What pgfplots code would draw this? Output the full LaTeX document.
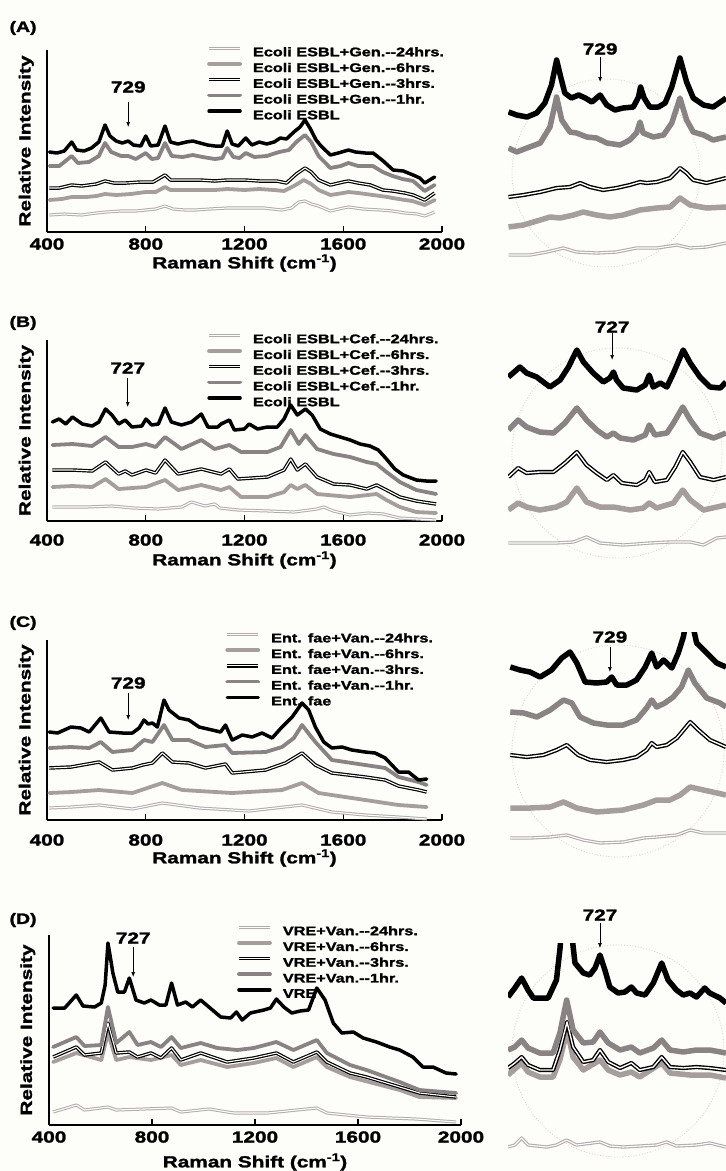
\documentclass[border=0pt]{standalone}
\usepackage{fontspec}
\setmainfont{Liberation Sans}[FakeStretch=1.3, BoldFeatures={FakeBold=1.6}]
\usepackage{pgfplots}
\pgfplotsset{compat=1.18}
\usetikzlibrary{arrows.meta}

\definecolor{bgc}{HTML}{FDFDF9}
\definecolor{grA}{HTML}{8A8383}
\definecolor{grB}{HTML}{A59E9D}
\definecolor{grC}{HTML}{B2ABAA}
\definecolor{ring}{HTML}{D6CACA}
\newcommand\fs[1]{\fontsize{#1}{#1}\selectfont\bfseries}

\pgfplotsset{
  ctl/.style={black, line width=3.5pt, line join=round, line cap=round},
  h1/.style={grA, line width=3.8pt, line join=round, line cap=round},
  h3/.style={draw=black, double=white, line width=1.2pt, double distance=1.1pt, line join=round},
  h6/.style={grB, line width=3.8pt, line join=round, line cap=round},
  h24/.style={draw=grC, double=white, line width=1pt, double distance=1.1pt, line join=round},
  ictl/.style={black, line width=5.5pt, line join=round},
  ih1/.style={grA, line width=5.5pt, line join=round},
  ih3/.style={draw=black, double=white, line width=1.4pt, double distance=1.4pt, line join=round},
  ih6/.style={grB, line width=5.5pt, line join=round},
  ih24/.style={draw=grC, double=white, line width=1.1pt, double distance=1.1pt, line join=round},
  main/.style={
    scale only axis, anchor=south west, width=395pt,
    xmin=400, xmax=2000, ymin=0,
    axis x line=bottom, axis y line=left, axis line style={-, line width=1.8pt},
    xtick={400,800,1200,1600,2000}, xticklabels={400,800,1200,1600,2000},
    ytick=\empty, tick align=inside, major tick length=6pt,
    tick style={line width=1.4pt, black},
    xticklabel style={font=\fs{16}, anchor=center},
    xlabel={Raman Shift (cm\textsuperscript{-1})}, ylabel={Relative Intensity},
    label style={font=\fs{16}},
    xlabel style={at={(axis description cs:0.5,0)}, anchor=center},
    ylabel style={at={(axis description cs:-0.033,0.5)}, anchor=south, inner sep=0pt},
    clip mode=individual, legend cell align=left,
    legend style={draw=none, fill=none, font=\fs{12.5}, anchor=north west,
      inner sep=0pt, row sep=3.2pt, nodes={inner sep=1pt}},
    legend image code/.code={\draw[##1] (1pt,4.3pt) -- (32pt,4.3pt); \path (42pt,4.3pt);},
  },
  ins/.style={
    scale only axis, anchor=south west, width=218pt, ymin=0,
    axis lines=none, xtick=\empty, ytick=\empty, clip mode=individual,
  },
}

\begin{document}
\begin{tikzpicture}
\path[use as bounding box, fill=bgc] (0pt,0pt) rectangle (726pt,-1171pt);

\node[anchor=west, font=\fs{15}] at (6pt,-28pt) {(A)};
\node[anchor=west, font=\fs{15}] at (6pt,-323pt) {(B)};
\node[anchor=west, font=\fs{15}] at (6pt,-623pt) {(C)};
\node[anchor=west, font=\fs{15}] at (6pt,-920pt) {(D)};

\draw[ring, dotted, line width=0.8pt] (606pt,-173pt) circle (94pt);
\draw[ring, dotted, line width=0.8pt] (617pt,-453pt) circle (105pt);
\draw[ring, dotted, line width=0.8pt] (618pt,-751pt) circle (106pt);
\draw[ring, dotted, line width=0.8pt] (618pt,-1051pt) circle (106pt);

% ---------------- (A) ----------------
\begin{axis}[main, at={(47pt,-232pt)}, height=182pt, ymax=182,
  legend style={at={(0.405,1.022)}},
  xticklabel style={yshift=-12pt}, xlabel style={yshift=-31pt}]
\addplot[h24] coordinates {(410,17)(470,18)(540,17)(600,19)(640,20)(700,21)(760,21)(800,22)(840,23)(878,26)(910,23)(960,22)(1000,22)(1060,23)(1130,24)(1200,24)(1280,24)(1350,22)(1390,24)(1420,30)(1445,31)(1470,28)(1500,26)(1548,21)(1600,24)(1621,25)(1680,23)(1750,22)(1800,21)(1850,19)(1900,18)(1930,16)(1970,20)};
\addlegendentry{Ecoli ESBL+Gen.-{}-24hrs.}
\addplot[h6] coordinates {(410,32)(460,33)(500,35)(560,35)(600,36)(635,38)(680,37)(740,38)(800,40)(840,40)(878,45)(900,42)(960,42)(1020,42)(1080,42)(1130,43)(1200,42)(1260,43)(1320,42)(1360,41)(1400,46)(1440,52)(1470,48)(1500,42)(1548,37)(1600,39)(1621,40)(1660,39)(1720,37)(1780,35)(1800,34)(1850,32)(1880,31)(1930,27)(1970,32)};
\addlegendentry{Ecoli ESBL+Gen.-{}-6hrs.}
\addplot[h3] coordinates {(410,44)(450,44)(500,47)(540,46)(600,48)(635,51)(670,49)(720,49)(780,50)(830,50)(878,57)(900,52)(960,52)(1020,52)(1080,51)(1130,52)(1200,52)(1260,51)(1330,51)(1370,49)(1410,58)(1445,64)(1470,60)(1500,52)(1548,47)(1600,50)(1621,51)(1660,49)(1710,47)(1760,42)(1800,41)(1850,39)(1883,37)(1930,32)(1970,39)};
\addlegendentry{Ecoli ESBL+Gen.-{}-3hrs.}
\addplot[h1] coordinates {(410,66)(450,66)(500,76)(525,69)(570,70)(610,76)(635,89)(660,80)(700,76)(729,76)(760,73)(800,79)(825,73)(850,74)(878,89)(905,76)(950,75)(990,77)(1030,75)(1080,73)(1110,74)(1130,84)(1155,75)(1180,74)(1205,79)(1240,75)(1290,76)(1340,80)(1380,82)(1410,90)(1445,97)(1470,90)(1500,76)(1548,64)(1590,66)(1621,69)(1660,66)(1720,66)(1760,60)(1800,56)(1840,53)(1883,51)(1930,41)(1970,47)};
\addlegendentry{Ecoli ESBL+Gen.-{}-1hr.}
\addplot[ctl] coordinates {(410,80)(440,79)(470,81)(500,90)(520,82)(550,81)(580,84)(610,90)(635,107)(655,96)(680,91)(705,89)(729,91)(750,87)(780,86)(800,96)(820,86)(850,87)(878,106)(900,90)(930,88)(965,90)(990,91)(1020,89)(1050,87)(1080,86)(1110,86)(1130,101)(1150,88)(1175,86)(1205,94)(1230,87)(1260,90)(1290,88)(1320,90)(1345,94)(1370,93)(1400,100)(1425,105)(1445,112)(1465,104)(1490,92)(1510,86)(1548,77)(1580,79)(1621,82)(1650,80)(1690,79)(1721,79)(1762,71)(1802,62)(1843,61)(1883,57)(1910,54)(1930,49)(1970,55)};
\addlegendentry{Ecoli ESBL}
\node[font=\fs{16}] at (axis cs:729,145) {729};
\draw[-{Latex[length=5pt,width=4pt]}, line width=0.7pt] (axis cs:729,130) -- (axis cs:729,105);
\end{axis}

\begin{axis}[ins, at={(508pt,-270pt)}, height=255pt, xmin=539, xmax=965, ymax=255]
\addplot[ih24] coordinates {(540,15)(582,15)(615,18)(647,22)(673,18)(712,17)(751,18)(790,22)(830,22)(869,25)(895,22)(927,23)(965,27)};
\addplot[ih6] coordinates {(540,43)(569,45)(602,50)(621,53)(641,52)(667,55)(686,58)(712,55)(738,53)(764,55)(797,60)(830,62)(856,63)(875,72)(895,65)(927,62)(965,63)};
\addplot[ih3] coordinates {(540,73)(569,75)(602,78)(634,82)(660,83)(680,87)(699,83)(725,80)(751,82)(777,85)(797,88)(810,87)(830,88)(856,92)(875,102)(888,97)(901,90)(927,87)(965,92)};
\addplot[ih1] coordinates {(540,122)(556,118)(576,122)(602,127)(621,143)(634,173)(644,150)(660,138)(673,137)(693,133)(712,132)(732,127)(758,125)(777,130)(790,137)(797,148)(803,137)(823,133)(843,135)(859,147)(875,172)(888,150)(901,138)(921,135)(940,130)(965,133)};
\addplot[ictl] coordinates {(540,158)(556,155)(576,153)(595,157)(611,167)(624,185)(634,210)(642,193)(650,177)(663,172)(677,175)(690,172)(703,168)(719,175)(732,165)(748,160)(764,162)(784,163)(794,173)(798,183)(805,172)(816,163)(833,163)(846,167)(859,183)(875,212)(888,188)(901,172)(921,165)(940,163)(960,170)(965,172)};
\node[font=\fs{16}] at (axis cs:719,221) {729};
\draw[-{Latex[length=5pt,width=4pt]}, line width=0.7pt] (axis cs:719,213) -- (axis cs:719,188);
\end{axis}

% ---------------- (B) ----------------
\begin{axis}[main, at={(47pt,-521pt)}, height=181pt, ymax=181,
  legend style={at={(0.405,1.039)}},
  xticklabel style={yshift=-19pt}, xlabel style={yshift=-39pt}]
\addplot[h24] coordinates {(422,14)(560,14)(663,15)(750,13)(850,12)(945,14)(985,19)(1040,15)(1079,17)(1100,13)(1173,11)(1300,10)(1400,9)(1494,12)(1521,14)(1560,10)(1628,6)(1700,8)(1762,7)(1829,3)(1900,2)(1976,1)};
\addlegendentry{Ecoli ESBL+Cef.-{}-24hrs.}
\addplot[h6] coordinates {(422,34)(503,35)(583,34)(637,42)(690,32)(801,34)(878,41)(931,31)(1025,36)(1105,31)(1139,34)(1186,24)(1293,24)(1360,29)(1387,36)(1414,32)(1447,36)(1494,27)(1628,24)(1735,27)(1775,21)(1829,14)(1896,9)(1976,8)};
\addlegendentry{Ecoli ESBL+Cef.-{}-6hrs.}
\addplot[h3] coordinates {(422,51)(503,51)(583,50)(637,59)(690,47)(717,50)(744,46)(801,51)(840,48)(878,61)(931,47)(1025,52)(1105,47)(1139,52)(1173,42)(1293,44)(1360,51)(1387,62)(1414,51)(1447,57)(1494,44)(1561,37)(1628,36)(1695,32)(1735,36)(1775,31)(1829,24)(1896,20)(1976,17)};
\addlegendentry{Ecoli ESBL+Cef.-{}-3hrs.}
\addplot[h1] coordinates {(422,76)(503,77)(583,75)(637,84)(690,74)(744,74)(801,77)(840,74)(878,84)(945,72)(1025,81)(1079,72)(1139,76)(1186,69)(1293,69)(1346,74)(1387,91)(1420,77)(1447,86)(1494,72)(1561,67)(1628,64)(1695,59)(1735,57)(1775,49)(1829,39)(1896,31)(1976,27)};
\addlegendentry{Ecoli ESBL+Cef.-{}-1hr.}
\addplot[ctl] coordinates {(422,99)(449,102)(476,97)(503,104)(543,97)(583,95)(610,99)(637,112)(663,106)(690,97)(717,101)(744,94)(784,95)(801,102)(824,96)(851,97)(878,113)(904,99)(945,96)(985,99)(1025,107)(1052,94)(1092,94)(1105,97)(1139,101)(1159,91)(1199,92)(1219,97)(1253,92)(1293,94)(1333,94)(1360,102)(1387,116)(1414,106)(1447,112)(1474,106)(1507,92)(1548,87)(1588,84)(1628,81)(1668,77)(1708,75)(1742,71)(1775,62)(1809,52)(1843,46)(1896,41)(1936,40)(1976,40)};
\addlegendentry{Ecoli ESBL}
\node[font=\fs{16}] at (axis cs:727,153) {727};
\draw[-{Latex[length=5pt,width=4pt]}, line width=0.7pt] (axis cs:727,143) -- (axis cs:727,114);
\end{axis}

\begin{axis}[ins, at={(508pt,-560pt)}, height=255pt, xmin=480, xmax=974, ymax=255]
\addplot[ih24] coordinates {(481,17)(530,17)(590,17)(628,18)(658,23)(688,17)(741,15)(802,17)(847,18)(893,18)(923,15)(953,22)(974,23)};
\addplot[ih6] coordinates {(481,50)(503,57)(522,53)(552,50)(590,53)(613,58)(636,72)(658,58)(688,53)(719,53)(757,50)(787,52)(800,57)(817,52)(855,57)(876,70)(893,60)(923,50)(974,55)};
\addplot[ih3] coordinates {(481,83)(503,92)(522,87)(552,88)(583,88)(609,97)(636,108)(658,95)(681,87)(704,80)(719,85)(738,77)(772,75)(791,80)(800,88)(813,78)(840,80)(859,93)(876,108)(893,98)(915,83)(946,80)(974,83)};
\addplot[ih1] coordinates {(481,130)(503,140)(522,133)(552,128)(583,127)(609,137)(636,152)(658,140)(681,130)(704,123)(719,127)(734,122)(764,120)(791,125)(800,135)(813,125)(840,127)(855,137)(876,153)(893,140)(915,127)(946,122)(974,127)};
\addplot[ictl] coordinates {(481,183)(507,193)(522,187)(545,183)(575,173)(598,180)(617,193)(636,210)(651,198)(673,187)(696,178)(711,182)(719,188)(726,180)(741,172)(772,170)(791,175)(800,185)(809,173)(825,177)(840,173)(855,187)(877,210)(893,197)(915,183)(938,173)(961,172)(974,178)};
\node[font=\fs{16}] at (axis cs:716,233) {727};
\draw[-{Latex[length=5pt,width=4pt]}, line width=0.7pt] (axis cs:716,227) -- (axis cs:716,200);
\end{axis}

% ---------------- (C) ----------------
\begin{axis}[main, at={(47pt,-820pt)}, height=180pt, ymax=180,
  legend style={at={(0.451,1.044)}},
  xticklabel style={yshift=-20pt}, xlabel style={yshift=-38pt}]
\addplot[h24] coordinates {(409,12)(500,13)(611,15)(746,11)(867,17)(1016,12)(1218,9)(1433,15)(1554,8)(1689,5)(1824,3)(1938,1)};
\addlegendentry{Ent. fae+Van.-{}-24hrs.}
\addplot[h6] coordinates {(409,27)(500,28)(611,30)(746,27)(867,37)(948,30)(1150,27)(1352,30)(1433,37)(1500,27)(1689,20)(1824,15)(1938,13)};
\addlegendentry{Ent. fae+Van.-{}-6hrs.}
\addplot[h3] coordinates {(409,52)(497,53)(611,58)(665,50)(746,52)(787,55)(827,57)(867,67)(908,58)(975,57)(1042,52)(1123,56)(1150,47)(1285,50)(1366,57)(1433,67)(1487,55)(1554,47)(1689,43)(1770,40)(1824,34)(1905,30)(1938,28)};
\addlegendentry{Ent. fae+Van.-{}-3hrs.}
\addplot[h1] coordinates {(409,72)(497,73)(571,72)(618,78)(665,68)(746,70)(793,80)(827,78)(874,95)(908,80)(975,80)(1042,73)(1123,75)(1150,67)(1285,68)(1352,73)(1400,82)(1433,95)(1487,78)(1554,60)(1689,55)(1770,52)(1824,43)(1905,38)(1938,35)};
\addlegendentry{Ent. fae+Van.-{}-1hr.}
\addplot[ctl] coordinates {(409,88)(443,87)(497,93)(537,92)(571,88)(618,102)(652,88)(706,87)(746,87)(773,92)(793,100)(810,96)(827,97)(847,93)(874,120)(894,110)(935,102)(975,100)(1016,93)(1069,90)(1103,88)(1123,95)(1150,80)(1191,85)(1231,83)(1271,87)(1312,82)(1352,93)(1393,103)(1433,117)(1460,110)(1487,93)(1521,78)(1554,72)(1595,73)(1635,70)(1689,68)(1729,67)(1770,62)(1824,48)(1864,48)(1905,40)(1938,41)};
\addlegendentry{Ent. fae}
\node[font=\fs{16}] at (axis cs:729,137) {729};
\draw[-{Latex[length=5pt,width=4pt]}, line width=0.7pt] (axis cs:729,127) -- (axis cs:729,100);
\end{axis}

\begin{axis}[ins, at={(508pt,-860pt)}, height=228pt, xmin=495, xmax=970, ymax=228]
\addplot[ih24] coordinates {(500,22)(543,22)(587,23)(623,25)(659,20)(696,17)(746,18)(790,22)(819,23)(863,25)(892,30)(921,27)(970,27)};
\addplot[ih6] coordinates {(500,52)(543,52)(587,53)(616,58)(645,52)(688,48)(746,50)(790,55)(819,60)(848,60)(870,65)(892,73)(921,70)(970,65)};
\addplot[ih3] coordinates {(500,105)(536,103)(572,105)(601,110)(623,115)(648,105)(674,100)(710,98)(746,100)(775,103)(797,110)(808,117)(819,113)(841,115)(863,122)(892,138)(910,130)(935,120)(970,113)};
\addplot[ih1] coordinates {(500,148)(529,147)(558,143)(587,150)(616,160)(634,157)(652,143)(681,137)(710,135)(746,135)(775,140)(797,152)(808,160)(819,153)(837,157)(855,163)(873,173)(888,190)(902,177)(928,162)(957,157)(970,153)};
\addplot[ictl] coordinates {(500,193)(521,190)(543,188)(565,183)(590,190)(612,202)(630,208)(645,197)(663,178)(688,177)(710,178)(721,183)(732,175)(754,175)(775,180)(794,193)(808,207)(819,193)(834,200)(852,192)(866,207)(877,223)(884,240)(895,240)(906,217)(928,207)(950,197)(970,193)};
\node[font=\fs{16}] at (axis cs:717,223) {729};
\draw[-{Latex[length=5pt,width=4pt]}, line width=0.7pt] (axis cs:717,213) -- (axis cs:717,188);
\end{axis}

% ---------------- (D) ----------------
\begin{axis}[main, at={(49pt,-1125pt)}, width=412pt, height=190pt, ymax=190,
  legend style={at={(0.456,1.053)}},
  xticklabel style={yshift=-12pt}, xlabel style={yshift=-37pt}]
\addplot[h24] coordinates {(416,13)(506,20)(538,15)(629,18)(661,15)(876,17)(912,13)(1021,16)(1118,12)(1247,12)(1440,17)(1479,12)(1633,8)(1826,6)(1981,3)};
\addlegendentry{VRE+Van.-{}-24hrs.}
\addplot[h6] coordinates {(416,63)(506,72)(603,65)(629,92)(661,65)(712,68)(796,65)(876,70)(912,60)(989,65)(1092,58)(1195,62)(1283,67)(1349,58)(1440,68)(1479,58)(1569,48)(1762,35)(1839,28)(1981,27)};
\addlegendentry{VRE+Van.-{}-6hrs.}
\addplot[h3] coordinates {(416,68)(506,78)(538,70)(603,72)(629,102)(661,72)(712,73)(744,68)(796,72)(835,67)(876,77)(912,65)(989,72)(1092,63)(1195,67)(1283,72)(1349,63)(1440,73)(1479,63)(1569,52)(1633,48)(1762,38)(1839,32)(1981,28)};
\addlegendentry{VRE+Van.-{}-3hrs.}
\addplot[h1] coordinates {(416,78)(506,88)(538,79)(603,80)(629,118)(661,82)(712,93)(744,80)(796,83)(835,78)(876,88)(912,77)(989,82)(1054,77)(1131,75)(1195,77)(1283,83)(1349,75)(1440,85)(1479,72)(1569,60)(1633,55)(1762,43)(1839,35)(1981,32)};
\addlegendentry{VRE+Van.-{}-1hr.}
\addplot[ctl] coordinates {(416,117)(461,117)(506,130)(532,119)(577,118)(603,122)(618,140)(629,182)(640,165)(648,152)(667,133)(693,133)(712,147)(738,125)(770,122)(796,125)(828,120)(854,120)(876,142)(899,120)(931,123)(957,118)(989,125)(1021,118)(1067,108)(1105,107)(1128,113)(1150,105)(1182,112)(1234,115)(1260,117)(1283,126)(1312,118)(1343,112)(1375,114)(1408,115)(1440,137)(1472,125)(1504,102)(1537,92)(1582,93)(1620,87)(1672,83)(1723,78)(1762,75)(1813,68)(1852,58)(1891,58)(1942,52)(1981,51)};
\addlegendentry{VRE}
\node[font=\fs{16}] at (axis cs:727,187) {727};
\draw[-{Latex[length=5pt,width=4pt]}, line width=0.7pt] (axis cs:727,178) -- (axis cs:727,148);
\end{axis}

\begin{axis}[ins, at={(508pt,-1165pt)}, height=222pt, xmin=470, xmax=1046, ymax=222]
\addplot[ih24] coordinates {(470,18)(488,20)(506,27)(523,20)(572,18)(598,20)(625,25)(651,20)(713,23)(739,19)(774,18)(863,20)(889,23)(915,19)(968,20)(1003,22)(1046,18)};
\addplot[ih6] coordinates {(470,90)(506,102)(523,93)(554,88)(589,88)(607,105)(626,135)(642,108)(669,95)(713,105)(735,95)(766,90)(796,93)(818,88)(876,102)(898,92)(951,90)(1003,90)(1046,87)};
\addplot[ih3] coordinates {(470,97)(488,102)(506,108)(523,100)(554,95)(589,95)(607,115)(626,143)(642,118)(669,103)(695,105)(713,115)(735,103)(766,97)(796,102)(818,95)(854,98)(876,108)(898,98)(933,97)(968,98)(1003,97)(1046,95)};
\addplot[ih1] coordinates {(470,115)(488,118)(506,125)(523,117)(554,112)(589,112)(607,132)(625,165)(642,135)(669,122)(695,123)(713,133)(735,122)(766,115)(796,118)(818,112)(854,117)(876,125)(898,115)(933,113)(968,115)(1003,115)(1046,112)};
\addplot[ictl] coordinates {(470,168)(488,177)(506,187)(523,175)(537,167)(576,167)(598,185)(607,215)(611,232)(638,232)(647,202)(669,192)(686,190)(700,197)(713,210)(726,195)(739,178)(761,172)(779,173)(796,178)(810,172)(832,170)(854,182)(876,202)(893,185)(915,175)(933,170)(951,172)(968,168)(990,177)(1003,172)(1030,167)(1046,162)};
\node[font=\fs{16}] at (axis cs:713,250) {727};
\draw[-{Latex[length=5pt,width=4pt]}, line width=0.7pt] (axis cs:713,242) -- (axis cs:713,217);
\end{axis}
\end{tikzpicture}
\end{document}
